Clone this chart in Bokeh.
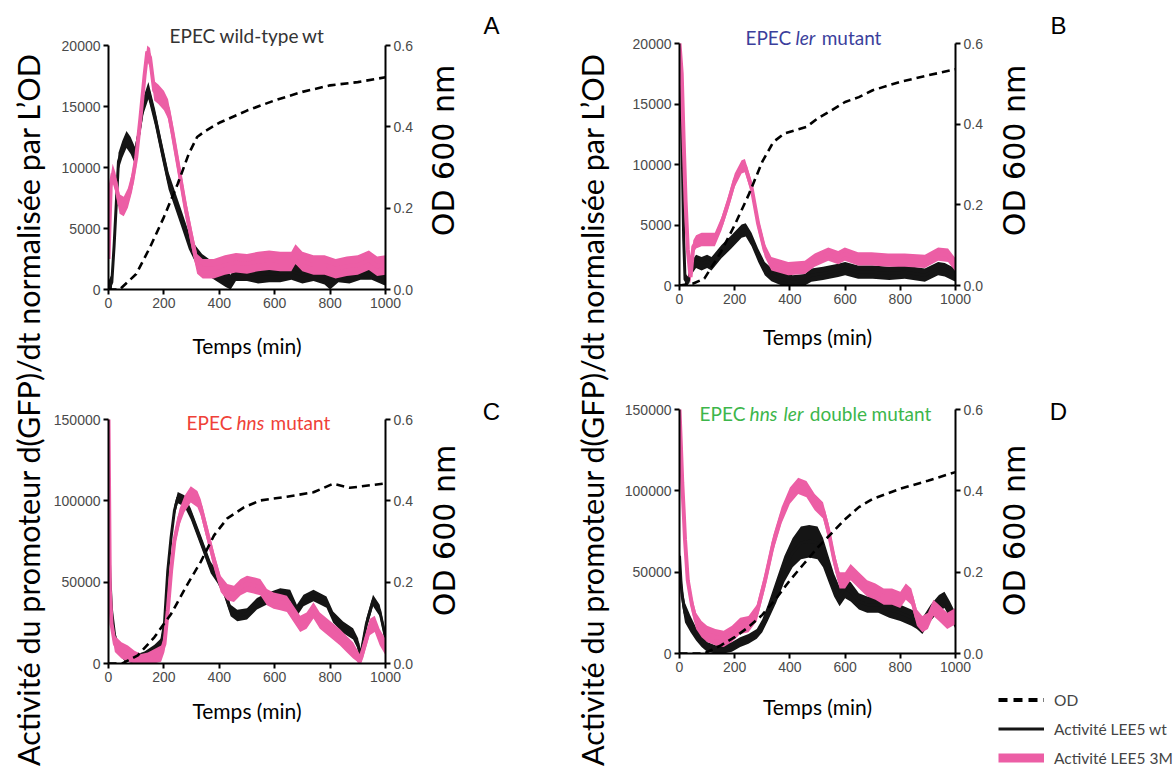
import math
from bokeh.plotting import figure
from bokeh.models import (Range1d, LinearAxis, Label, Legend, LegendItem,
                          FixedTicker, BasicTickFormatter, NumeralTickFormatter)
from bokeh.layouts import row, column
from bokeh.embed import file_html
from bokeh.resources import INLINE

# ---------------- data ----------------
# Panel A : EPEC wild-type
tA_wt = [0, 12, 20, 28, 36, 50, 65, 80, 95, 110, 125, 144, 168, 193, 217, 241, 265, 290, 314, 338, 375, 423, 441, 460, 500, 540, 580, 620, 660, 700, 740, 780, 800, 830, 870, 910, 950, 1000]
A_wt = [0, 600, 3500, 7000, 10500, 11500, 12300, 11800, 11000, 12800, 15000, 16300, 14100, 11400, 8900, 7300, 5700, 4000, 2900, 2200, 1600, 900, 500, 1400, 1400, 1200, 1300, 1300, 1500, 1200, 1400, 1100, 600, 1300, 1200, 1500, 1500, 1000]
tA_3m = [0, 8, 15, 25, 40, 55, 70, 85, 100, 115, 130, 140, 150, 165, 180, 200, 215, 230, 253, 278, 302, 320, 340, 380, 420, 460, 500, 540, 580, 620, 660, 675, 700, 740, 780, 820, 860, 900, 940, 970, 1000]
A_3m = [2500, 8500, 9500, 8800, 7000, 6800, 7500, 8800, 10800, 14000, 17500, 19500, 19000, 16300, 16000, 15500, 14800, 13000, 10000, 6700, 4000, 2100, 1700, 1700, 2000, 2200, 2100, 2300, 2400, 2300, 2300, 2900, 2300, 2000, 2000, 1700, 1900, 2000, 2400, 1900, 2000]
tA_od = [0, 40, 100, 150, 200, 250, 290, 320, 350, 400, 500, 600, 700, 800, 900, 1000]
A_od = [0.0, 0.0, 0.038, 0.104, 0.178, 0.26, 0.334, 0.375, 0.39, 0.41, 0.44, 0.465, 0.486, 0.502, 0.51, 0.522]
A_err = [700, 800]

# Panel B : EPEC ler mutant
tB_wt = [0, 5, 10, 15, 20, 30, 45, 60, 80, 100, 116, 152, 188, 225, 240, 261, 285, 309, 333, 370, 410, 454, 478, 520, 575, 600, 647, 700, 760, 816, 889, 937, 961, 1000]
B_wt = [19000, 16000, 11000, 4000, 500, 200, 1500, 2000, 1800, 2000, 1800, 2800, 3600, 4500, 4600, 3800, 2500, 1400, 900, 500, 300, 400, 850, 1000, 1250, 1400, 1100, 1100, 1000, 1100, 850, 1400, 1300, 850]
tB_3m = [0, 8, 15, 22, 30, 40, 50, 60, 80, 100, 128, 152, 176, 200, 225, 237, 261, 285, 309, 333, 394, 454, 490, 539, 575, 599, 647, 696, 756, 816, 889, 937, 973, 1000]
B_3m = [20000, 17500, 12000, 7000, 3000, 700, 3200, 3600, 3800, 3800, 3800, 5100, 6800, 8700, 9800, 9900, 8100, 5100, 2900, 1800, 1400, 1500, 2100, 2600, 2300, 2600, 2200, 2200, 2100, 2100, 2000, 2600, 2500, 1700]
tB_od = [0, 50, 90, 150, 200, 250, 300, 340, 380, 420, 460, 500, 550, 600, 650, 700, 800, 900, 1000]
B_od = [0.0, 0.005, 0.017, 0.083, 0.15, 0.224, 0.307, 0.356, 0.377, 0.385, 0.393, 0.414, 0.434, 0.455, 0.467, 0.484, 0.505, 0.521, 0.536]
B_err = [550, 550]

# Panel C : EPEC hns mutant
tC_wt = [0, 5, 11, 23, 35, 58, 94, 130, 166, 190, 202, 208, 214, 226, 238, 250, 274, 297, 333, 369, 393, 417, 441, 465, 500, 536, 572, 620, 656, 680, 704, 740, 787, 811, 847, 883, 901, 909, 931, 955, 979, 1000]
C_wt = [85000, 53000, 32600, 16000, 10000, 5000, 1800, 3900, 8000, 12000, 24400, 40800, 57000, 77700, 94000, 102000, 100000, 92000, 75600, 59000, 53000, 45000, 32600, 29500, 30500, 36700, 39800, 42800, 41800, 32600, 38700, 41800, 37700, 28500, 22300, 18200, 12000, 3900, 24400, 38700, 32600, 16000]
tC_3m = [0, 5, 11, 23, 47, 70, 94, 118, 142, 166, 190, 202, 214, 226, 238, 256, 274, 297, 321, 333, 357, 381, 405, 429, 453, 477, 500, 524, 548, 572, 596, 620, 644, 668, 692, 715, 740, 763, 799, 835, 859, 883, 907, 919, 943, 961, 979, 1000]
C_3m = [150000, 45000, 24400, 12000, 8000, 6000, 2900, 800, 1800, 3900, 6000, 12000, 32600, 57000, 75600, 90000, 98000, 104000, 101000, 96000, 79700, 63300, 49000, 43900, 42800, 46900, 49000, 48000, 47000, 40800, 38700, 37700, 36700, 30500, 24400, 26400, 32600, 26400, 21300, 16200, 12000, 8000, 800, 8000, 22300, 24400, 16200, 10000]
tC_od = [0, 50, 106, 166, 226, 286, 333, 381, 429, 489, 548, 644, 740, 811, 871, 1000]
C_od = [0.0, 0.0, 0.02, 0.065, 0.122, 0.196, 0.25, 0.315, 0.357, 0.384, 0.401, 0.41, 0.421, 0.442, 0.432, 0.443]
C_err = [3500, 5000]

# Panel D : EPEC hns ler double mutant
tD_wt = [0, 5, 10, 20, 40, 60, 80, 100, 130, 160, 190, 220, 250, 280, 300, 320, 350, 380, 410, 440, 470, 500, 520, 540, 560, 580, 600, 620, 650, 680, 720, 760, 800, 840, 860, 880, 910, 940, 960, 980, 1000]
D_wt = [60000, 45000, 35000, 25000, 18000, 12000, 8000, 4000, 2000, 2000, 4000, 7000, 9000, 12000, 17000, 25000, 38000, 52000, 62000, 68000, 69000, 68000, 62000, 52000, 42000, 35000, 40000, 38000, 32000, 30000, 30000, 27000, 25000, 22000, 20000, 17000, 25000, 31000, 33000, 27000, 20000]
D_wt_err = [8000, 8000, 6000, 6000, 5000, 4000, 4000, 3000, 3000, 3000, 3000, 3000, 3000, 3000, 4000, 5000, 7000, 8000, 9000, 10000, 10000, 10000, 9000, 8000, 7000, 6000, 6000, 6000, 5000, 5000, 5000, 5000, 5000, 5000, 5000, 5000, 5000, 5000, 5000, 5000, 5000]
tD_3m = [0, 5, 10, 15, 20, 30, 45, 60, 80, 100, 130, 160, 190, 220, 250, 280, 310, 340, 370, 400, 430, 460, 490, 520, 540, 560, 580, 600, 620, 650, 680, 710, 740, 770, 800, 820, 840, 860, 880, 900, 920, 940, 970, 1000]
D_3m = [150000, 128000, 105000, 88000, 70000, 45000, 30000, 20000, 15000, 12000, 10000, 9000, 12000, 17000, 18000, 25000, 45000, 68000, 85000, 97000, 103000, 101000, 93000, 88000, 75000, 58000, 45000, 45000, 50000, 45000, 40000, 38000, 35000, 35000, 33000, 38000, 35000, 22000, 18000, 20000, 28000, 25000, 20000, 23000]
tD_od = [0, 90, 150, 200, 250, 300, 350, 400, 450, 500, 550, 600, 650, 700, 800, 900, 1000]
D_od = [0.0, 0.0, 0.02, 0.04, 0.065, 0.095, 0.135, 0.18, 0.22, 0.26, 0.295, 0.33, 0.36, 0.38, 0.405, 0.425, 0.446]
D_3m_err = 5000

x_ticks = [0, 200, 400, 600, 800, 1000]
y_ticks_small = [0, 5000, 10000, 15000, 20000]
y_ticks_large = [0, 50000, 100000, 150000]
od_ticks = [0.0, 0.2, 0.4, 0.6]

titles = {
    "A": [("EPEC", False), ("wild-type", False), ("wt", False)],
    "B": [("EPEC", False), ("ler", True), ("mutant", False)],
    "C": [("EPEC", False), ("hns", True), ("mutant", False)],
    "D": [("EPEC", False), ("hns", True), ("ler", True), ("double", False), ("mutant", False)],
}
series_labels = ["OD", "Activité LEE5 wt", "Activité LEE5 3M"]
big_label = "Activité du  promoteur d(GFP)/dt normalisée par L\u2019OD"

# ---------------- style ----------------
PINK = "#ec5ea5"
BLACK = "#151515"
TICK_FONT = "Liberation Sans"
TEXT_FONT = "Lato"
TICK_COLOR = "#4a4a4a"
PAGE_H = 766

# approx Lato advance widths (em)
W = {" ": 0.25, "E": 0.56, "P": 0.6, "C": 0.66, "a": 0.49, "b": 0.56, "d": 0.56,
     "e": 0.52, "h": 0.56, "i": 0.24, "l": 0.24, "m": 0.84, "n": 0.56, "o": 0.56,
     "p": 0.56, "r": 0.37, "s": 0.42, "t": 0.35, "u": 0.56, "w": 0.78, "y": 0.5, "-": 0.34}


def text_w(s, size):
    return sum(W.get(c, 0.5) for c in s) * size


def style_axis(ax):
    ax.axis_line_width = 2
    ax.axis_line_color = "black"
    ax.major_tick_line_width = 2
    ax.major_tick_line_color = "black"
    ax.major_tick_out = 5
    ax.major_tick_in = 0
    ax.minor_tick_line_color = None
    ax.major_label_text_font = TICK_FONT
    ax.major_label_text_font_size = "14px"
    ax.major_label_text_color = TICK_COLOR
    ax.major_label_standoff = 3


def add_series(p, t, v, err, color, lw, ymax):
    errs = err if isinstance(err, list) else [err] * len(v)
    lo = [max(a - e, 0) for a, e in zip(v, errs)]
    hi = [min(a + e, ymax) for a, e in zip(v, errs)]
    p.varea(x=t, y1=lo, y2=hi, fill_color=color, fill_alpha=1.0)
    p.line(t, v, line_color=color, line_width=lw)


def make_panel(key, box, frame, ymax, yticks, data, xlab_standoff, title_color, title_pos):
    """box: page box of the figure; frame: page box of the axes (x0, y_axis_top, x1, y_axis_bottom)."""
    bx0, by0, bx1, by1 = box
    fx0, fy0, fx1, fy1 = frame
    ftop = by0 + 10                      # frame extends up so titles can live inside it
    k = (fy1 - ftop) / (fy1 - fy0)
    p = figure(frame_width=fx1 - fx0, frame_height=fy1 - ftop,
               min_border_left=fx0 - bx0, min_border_right=bx1 - fx1,
               min_border_top=ftop - by0, min_border_bottom=by1 - fy1,
               x_range=Range1d(0, 1000), y_range=Range1d(0, ymax * k),
               toolbar_location=None, output_backend="svg", title=None)
    p.extra_y_ranges = {"od": Range1d(0, 0.6 * k)}
    p.grid.visible = False
    p.outline_line_color = None
    p.background_fill_color = "white"
    p.border_fill_color = "white"

    p.xaxis.ticker = FixedTicker(ticks=x_ticks)
    p.yaxis.ticker = FixedTicker(ticks=yticks)
    p.yaxis.formatter = BasicTickFormatter(use_scientific=False)
    p.yaxis.bounds = (0, ymax)
    rax = LinearAxis(y_range_name="od", ticker=FixedTicker(ticks=od_ticks),
                     formatter=NumeralTickFormatter(format="0.0"), bounds=(0, 0.6))
    p.add_layout(rax, "right")
    for ax in [p.xaxis[0], p.yaxis[0], rax]:
        style_axis(ax)
    p.xaxis.axis_label = "Temps (min)"
    p.xaxis.axis_label_text_font = TEXT_FONT
    p.xaxis.axis_label_text_font_size = "21px"
    p.xaxis.axis_label_text_font_style = "normal"
    p.xaxis.axis_label_text_color = "black"
    p.xaxis.axis_label_standoff = xlab_standoff

    (t_wt, v_wt, e_wt), (t_3m, v_3m, e_3m), (t_od, v_od) = data
    add_series(p, t_wt, v_wt, e_wt, BLACK, 3, ymax)
    add_series(p, t_3m, v_3m, e_3m, PINK, 4, ymax)
    p.line(t_od, v_od, y_range_name="od", line_color="black", line_width=2.6,
           line_dash="8 5")

    def conv(px, py):
        return ((px - fx0) / (fx1 - fx0) * 1000.0, (fy1 - py) / (fy1 - fy0) * ymax)

    # title (pieces, some italic)
    pieces = titles[key]
    size = 19
    sp = W[" "] * size
    widths = [text_w(s, size) for s, _ in pieces]
    total = sum(widths) + sp * (len(pieces) - 1)
    x = title_pos[0] - total / 2
    for (s, it), w in zip(pieces, widths):
        dx, dy = conv(x, title_pos[1])
        p.add_layout(Label(x=dx, y=dy, text=s, text_font=TEXT_FONT,
                           text_font_size=f"{size}px",
                           text_font_style="italic" if it else "normal",
                           text_color=title_color, text_align="left",
                           text_baseline="middle"))
        x += w + sp
    return p


def plain_fig(width, height):
    f = figure(width=width, height=height, x_range=Range1d(0, width), y_range=Range1d(0, height),
               toolbar_location=None, output_backend="svg", title=None,
               x_axis_location=None, y_axis_location=None, min_border=0)
    f.grid.visible = False
    f.outline_line_color = None
    return f


def side_fig(x0, x1, letters, od_positions):
    f = plain_fig(x1 - x0, PAGE_H)
    for letter, (lx, ly) in letters:
        f.add_layout(Label(x=lx - x0, y=PAGE_H - ly, text=letter,
                           text_font=TICK_FONT, text_font_size="24px", text_color="black",
                           text_align="center", text_baseline="middle"))
    for ox, oy in od_positions:
        f.add_layout(Label(x=ox - x0, y=PAGE_H - oy, text="OD 600 nm",
                           text_font="DejaVu Sans", text_font_size="30px", text_color="black",
                           angle=math.pi / 2, text_align="center", text_baseline="middle"))
    return f


def label_fig(width, x_center, y_center_page):
    f = plain_fig(width, PAGE_H)
    f.add_layout(Label(x=x_center, y=PAGE_H - y_center_page, text=big_label,
                       text_font=TEXT_FONT, text_font_size="30.5px", text_color="black",
                       angle=math.pi / 2, text_align="center", text_baseline="middle"))
    return f


pA = make_panel("A", (50, 0, 416, 375), (107, 45, 384, 289), 20000, y_ticks_small,
                ((tA_wt, A_wt, A_err[0]), (tA_3m, A_3m, A_err[1]), (tA_od, A_od)),
                22, "#333333", (245, 35))
pC = make_panel("C", (50, 375, 416, 766), (107, 419, 384, 663), 150000, y_ticks_large,
                ((tC_wt, C_wt, C_err[0]), (tC_3m, C_3m, C_err[1]), (tC_od, C_od)),
                13, "#ef4138", (257, 422))
pB = make_panel("B", (620, 0, 985, 375), (676, 43, 952, 285), 20000, y_ticks_small,
                ((tB_wt, B_wt, B_err[0]), (tB_3m, B_3m, B_err[1]), (tB_od, B_od)),
                17, "#3b3f9c", (810, 37))
pD = make_panel("D", (620, 375, 985, 766), (676, 409, 952, 653), 150000, y_ticks_large,
                ((tD_wt, D_wt, D_wt_err), (tD_3m, D_3m, D_3m_err), (tD_od, D_od)),
                19, "#3cb64b", (812, 413))

sAC = side_fig(416, 560, [("A", (490, 25)), ("C", (490, 411))], [(442, 150), (443, 530)])
sBD = side_fig(985, 1175, [("B", (1055, 25)), ("D", (1055, 411))], [(1011, 150), (1011, 530)])

# legend samples: the D series drawn on a range that puts them off-canvas
sBD.extra_y_ranges = {"hide": Range1d(1e7, 2e7)}
lg_od = sBD.line(tD_od, D_od, y_range_name="hide", line_color="black", line_width=4,
                 line_dash="9 6")
lg_wt = sBD.line(tD_wt, D_wt, y_range_name="hide", line_color=BLACK, line_width=3)
lg_3m = sBD.line(tD_3m, D_3m, y_range_name="hide", line_color=PINK, line_width=9)
legend = Legend(items=[LegendItem(label=series_labels[0], renderers=[lg_od]),
                       LegendItem(label=series_labels[1], renderers=[lg_wt]),
                       LegendItem(label=series_labels[2], renderers=[lg_3m])],
                location=(10, -1), orientation="vertical", border_line_color=None,
                background_fill_alpha=0, padding=0, margin=0, spacing=10,
                glyph_width=46, glyph_height=19, label_height=19, label_standoff=10,
                label_text_font=TEXT_FONT, label_text_font_size="15.5px")
sBD.add_layout(legend)

lab1 = label_fig(50, 27.5, 405)
lab2 = label_fig(60, 30, 405)

layout = row(lab1, column(pA, pC, spacing=0), sAC,
             lab2, column(pB, pD, spacing=0), sBD, spacing=0)

open("out.html", "w").write(file_html(layout, INLINE))
